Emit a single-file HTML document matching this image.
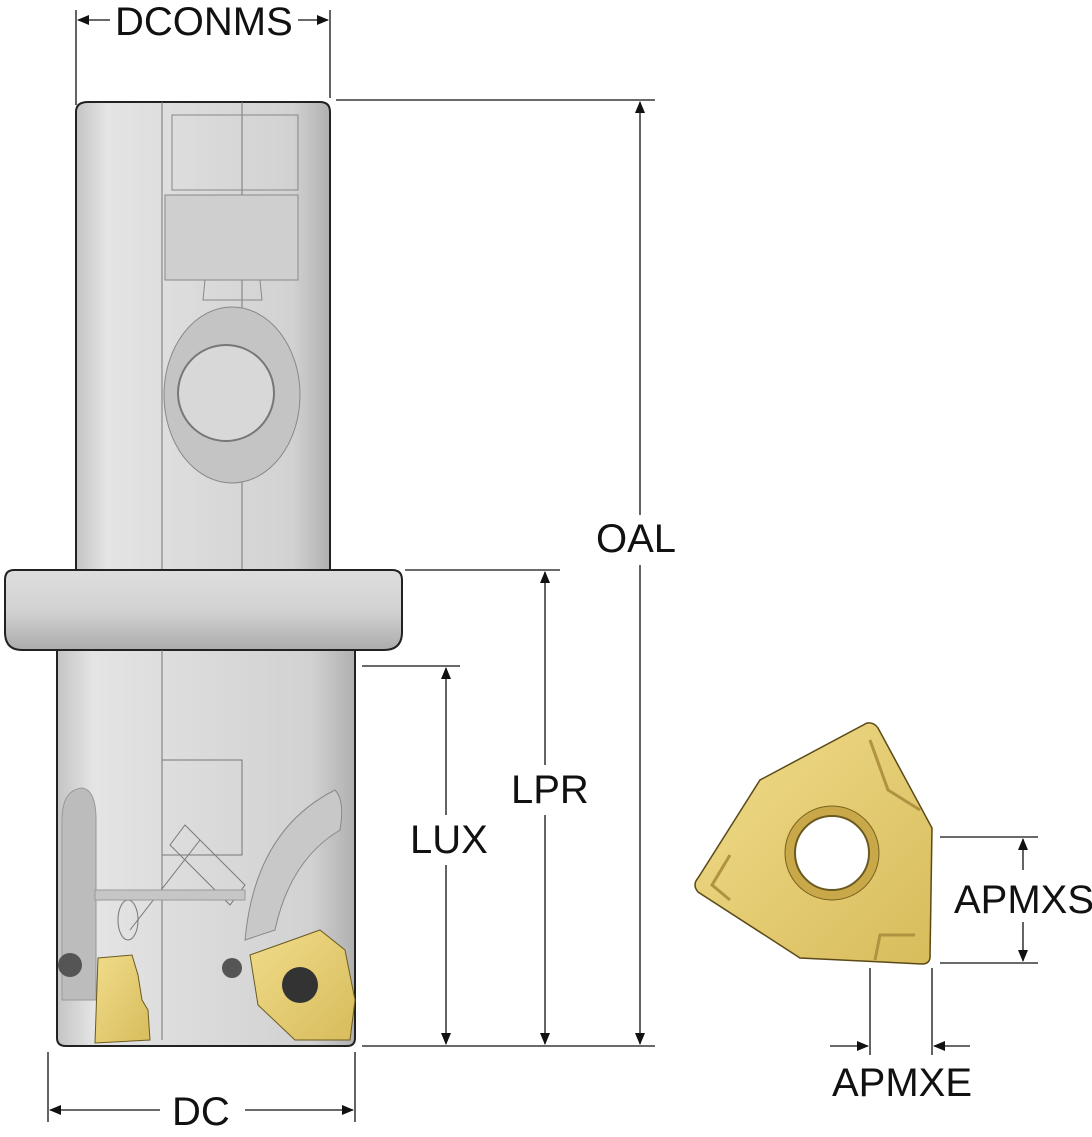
<!DOCTYPE html>
<html><head><style>
html,body{margin:0;padding:0;background:#fff;}
svg{display:block;}
text{font-family:"Liberation Sans",sans-serif;font-size:40px;fill:#111;}
</style></head><body>
<svg width="1092" height="1137" viewBox="0 0 1092 1137">
<defs>
<linearGradient id="g" x1="0" x2="1" y1="0" y2="0">
<stop offset="0" stop-color="#c4c4c4"/><stop offset="0.12" stop-color="#e4e4e4"/>
<stop offset="0.5" stop-color="#dadada"/><stop offset="0.85" stop-color="#d2d2d2"/><stop offset="1" stop-color="#b0b0b0"/>
</linearGradient>
<linearGradient id="fl" x1="0" x2="0" y1="0" y2="1">
<stop offset="0" stop-color="#dedede"/><stop offset="0.5" stop-color="#d2d2d2"/><stop offset="1" stop-color="#acacac"/>
</linearGradient>
<linearGradient id="gold" x1="0" x2="1" y1="0" y2="1">
<stop offset="0" stop-color="#f0dc8a"/><stop offset="1" stop-color="#d8bc5c"/>
</linearGradient>
<marker id="a" markerWidth="12" markerHeight="12" refX="11" refY="6" orient="auto" markerUnits="userSpaceOnUse"><path d="M0,1 L12,6 L0,11 z" fill="#111"/></marker>
</defs>
<path d="M76,112 Q76,102 88,102 L320,102 Q330,102 330,112 L330,570 L76,570 Z" fill="url(#g)" stroke="#222" stroke-width="2"/>
<line x1="162" y1="102" x2="162" y2="1040" stroke="#777" stroke-width="1"/>
<line x1="242" y1="102" x2="242" y2="850" stroke="#777" stroke-width="1"/>
<path d="M172,115 L298,115 L298,190 L172,190 Z" fill="none" stroke="#888"/>
<path d="M165,195 L298,195 L298,280 L165,280 Z" fill="#cfcfcf" stroke="#888"/>
<path d="M205,280 L260,280 L262,300 L203,300 Z" fill="none" stroke="#888"/>
<ellipse cx="232" cy="395" rx="68" ry="88" fill="#c4c4c4" stroke="#888"/>
<circle cx="226" cy="393" r="48" fill="#d8d8d8" stroke="#777" stroke-width="2"/>
<path d="M14,570 L392,570 Q402,570 402,580 L402,632 Q402,650 384,650 L22,650 Q5,650 5,632 L5,580 Q5,570 14,570 Z" fill="url(#fl)" stroke="#222" stroke-width="2"/>
<path d="M57,650 L355,650 L355,1038 Q355,1046 347,1046 L66,1046 Q57,1046 57,1038 Z" fill="url(#g)" stroke="#222" stroke-width="2"/>
<line x1="162" y1="650" x2="162" y2="1040" stroke="#777"/>
<path d="M162,760 L242,760 L242,855 L162,855" fill="none" stroke="#777"/>
<path d="M170,845 L185,825 L245,885 L230,905 Z" fill="none" stroke="#777"/>
<line x1="200" y1="840" x2="130" y2="930" stroke="#777"/>
<ellipse cx="128" cy="920" rx="10" ry="20" fill="none" stroke="#777"/>
<path d="M62,820 Q62,790 82,788 Q96,790 96,820 L96,1000 L62,1000 Z" fill="#bcbcbc" stroke="#999"/>
<rect x="95" y="890" width="150" height="10" fill="#c6c6c6" stroke="#999"/>
<path d="M245,940 Q255,830 335,790 Q345,800 340,830 Q290,860 275,930 Z" fill="#c8c8c8" stroke="#888"/>
<circle cx="70" cy="965" r="12" fill="#555"/>
<circle cx="232" cy="968" r="10" fill="#555"/>
<path d="M98,958 L132,955 L138,975 L142,1000 L148,1010 L150,1040 L95,1043 Z" fill="url(#gold)" stroke="#6b5a20"/>
<path d="M250,955 L320,930 L345,950 L355,1000 L350,1040 L295,1040 L258,1005 Z" fill="url(#gold)" stroke="#6b5a20"/>
<circle cx="300" cy="985" r="18" fill="#333"/>
<path d="M867,723 Q874,722 878,728 L932,828 L930,958 Q929,964 922,964 L800,958 L698,892 Q692,885 698,878 L760,780 Z" fill="url(#gold)" stroke="#5a4a18" stroke-width="1.5"/>
<path d="M870,740 L888,790 L920,810" fill="none" stroke="#b09240" stroke-width="3"/>
<path d="M730,855 L712,885 L730,900" fill="none" stroke="#b09240" stroke-width="3"/>
<path d="M875,960 L880,935 L915,935" fill="none" stroke="#b09240" stroke-width="3"/>
<circle cx="832" cy="853" r="47" fill="#c8a848" stroke="#7a6220"/>
<circle cx="832" cy="853" r="37" fill="#fff" stroke="#6b5a20" stroke-width="2"/>
<g stroke="#111" stroke-width="1.3" fill="none">
<line x1="76" y1="10" x2="76" y2="105"/><line x1="330" y1="10" x2="330" y2="98"/>
<line x1="110" y1="20" x2="78" y2="20" marker-end="url(#a)"/><line x1="298" y1="20" x2="328" y2="20" marker-end="url(#a)"/>
<line x1="336" y1="100" x2="655" y2="100"/>
<line x1="405" y1="570" x2="560" y2="570"/>
<line x1="362" y1="666" x2="460" y2="666"/>
<line x1="362" y1="1046" x2="655" y2="1046"/>
<line x1="640" y1="515" x2="640" y2="102" marker-end="url(#a)"/><line x1="640" y1="565" x2="640" y2="1044" marker-end="url(#a)"/>
<line x1="545" y1="765" x2="545" y2="572" marker-end="url(#a)"/><line x1="545" y1="815" x2="545" y2="1044" marker-end="url(#a)"/>
<line x1="446" y1="815" x2="446" y2="668" marker-end="url(#a)"/><line x1="446" y1="865" x2="446" y2="1044" marker-end="url(#a)"/>
<line x1="48" y1="1052" x2="48" y2="1122"/><line x1="355" y1="1052" x2="355" y2="1122"/>
<line x1="160" y1="1110" x2="50" y2="1110" marker-end="url(#a)"/><line x1="245" y1="1110" x2="353" y2="1110" marker-end="url(#a)"/>
<line x1="940" y1="837" x2="1038" y2="837"/><line x1="940" y1="963" x2="1038" y2="963"/>
<line x1="1023" y1="870" x2="1023" y2="839" marker-end="url(#a)"/><line x1="1023" y1="922" x2="1023" y2="961" marker-end="url(#a)"/>
<line x1="870" y1="968" x2="870" y2="1055"/><line x1="932" y1="968" x2="932" y2="1055"/>
<line x1="830" y1="1046" x2="868" y2="1046" marker-end="url(#a)"/><line x1="970" y1="1046" x2="934" y2="1046" marker-end="url(#a)"/>
</g>
<text x="115" y="35">DCONMS</text>
<text x="596" y="552">OAL</text>
<text x="511" y="803">LPR</text>
<text x="410" y="853">LUX</text>
<text x="172" y="1125">DC</text>
<text x="954" y="913">APMXS</text>
<text x="832" y="1096">APMXE</text>
</svg>
</body></html>
